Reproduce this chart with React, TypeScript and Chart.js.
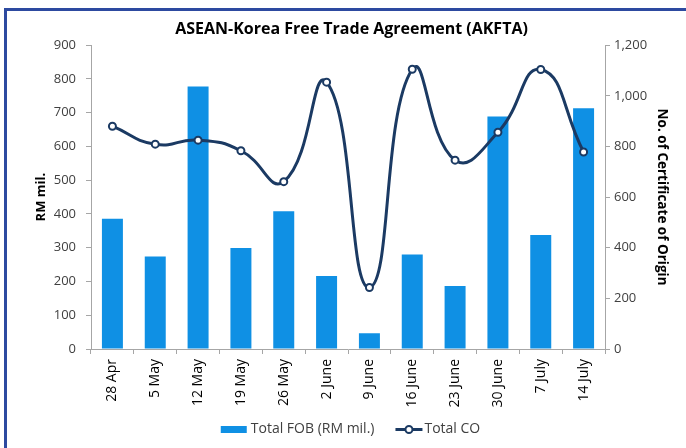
import React, { useEffect, useRef } from "react";
import { Chart, registerables } from "chart.js";

Chart.register(...registerables);

const categories = ["28 Apr", "5 May", "12 May", "19 May", "26 May", "2 June", "9 June", "16 June", "23 June", "30 June", "7 July", "14 July"];
const totalFob = [386, 274, 778, 299, 408, 216, 47, 280, 187, 689, 338, 713];
const totalCo = [880, 809, 825, 783, 661, 1054, 243, 1105, 746, 856, 1104, 778];
const leftTicks = [0, 100, 200, 300, 400, 500, 600, 700, 800, 900];
const rightTicks = [0, 200, 400, 600, 800, 1000, 1200];

const FONT = "'Open Sans', 'Liberation Sans', sans-serif";
const BAR = "#0F90E4";
const LINE = "#1B3A63";
const AXIS = "#A6A6A6";

const legendPlugin = {
  id: "customLegend",
  afterDraw(chart: any) {
    const ctx = chart.ctx;
    const ds = chart.data.datasets;
    ctx.save();
    ctx.font = `14px ${FONT}`;
    ctx.textBaseline = "middle";
    ctx.fillStyle = "#404040";
    const t1 = ds[0].label;
    const t2 = ds[1].label;
    const w1 = ctx.measureText(t1).width;
    const w2 = ctx.measureText(t2).width;
    const total = 26 + 4 + w1 + 21 + 27 + 2 + w2;
    let x = 350.5 - total / 2;
    const y = 429.5;
    ctx.fillStyle = ds[0].backgroundColor;
    ctx.fillRect(x, y - 3.5, 26, 7);
    x += 30;
    ctx.fillStyle = "#404040";
    ctx.fillText(t1, x, y);
    x += w1 + 21;
    ctx.strokeStyle = ds[1].borderColor;
    ctx.lineWidth = 3;
    ctx.beginPath();
    ctx.moveTo(x, y);
    ctx.lineTo(x + 27, y);
    ctx.stroke();
    ctx.beginPath();
    ctx.arc(x + 13.5, y, 3.5, 0, Math.PI * 2);
    ctx.fillStyle = "#ffffff";
    ctx.fill();
    ctx.lineWidth = 2;
    ctx.stroke();
    x += 29;
    ctx.fillStyle = "#404040";
    ctx.fillText(t2, x, y);
    ctx.restore();
  },
};

export default function App() {
  const ref = useRef<HTMLCanvasElement | null>(null);

  useEffect(() => {
    if (!ref.current) return;
    const chart = new Chart(ref.current, {
      type: "bar",
      data: {
        labels: categories,
        datasets: [
          {
            type: "bar",
            label: "Total FOB (RM mil.)",
            data: totalFob,
            backgroundColor: BAR,
            borderWidth: 0,
            yAxisID: "y",
            order: 2,
            barPercentage: 1,
            categoryPercentage: 0.49,
          },
          {
            type: "line",
            label: "Total CO",
            data: totalCo,
            borderColor: LINE,
            backgroundColor: "#ffffff",
            borderWidth: 3,
            tension: 0.5,
            pointRadius: 3.5,
            pointBorderWidth: 2,
            pointBackgroundColor: "#ffffff",
            pointBorderColor: LINE,
            yAxisID: "y1",
            order: 1,
          } as any,
        ],
      },
      options: {
        responsive: false,
        animation: false,
        layout: { padding: { left: 33, right: 16, top: 0, bottom: 29 } },
        plugins: {
          legend: { display: false },
          tooltip: { enabled: false },
          title: {
            display: true,
            text: "ASEAN-Korea Free Trade Agreement (AKFTA)",
            color: "#000000",
            font: { family: FONT, size: 16, weight: "bold" },
            padding: { top: 20, bottom: 6 },
          },
        },
        scales: {
          x: {
            grid: { drawOnChartArea: false, drawTicks: true, tickLength: 5, color: AXIS, offset: true },
            border: { color: AXIS, width: 1 },
            ticks: {
              color: "#000000",
              font: { family: FONT, size: 14 },
              minRotation: 90,
              maxRotation: 90,
              padding: 5,
              autoSkip: false,
            },
            afterFit(scale: any) {
              scale.height = 70;
            },
          },
          y: {
            position: "left",
            min: 0,
            max: 900,
            afterBuildTicks(scale: any) {
              scale.ticks = leftTicks.map((v) => ({ value: v }));
            },
            grid: { drawOnChartArea: false, drawTicks: true, tickLength: 5, color: AXIS },
            border: { color: AXIS, width: 1 },
            ticks: { color: "#404040", font: { family: FONT, size: 13 }, padding: 10 },
            title: {
              display: true,
              text: "RM mil.",
              color: "#000000",
              font: { family: FONT, size: 13, weight: "bold" },
              padding: { top: 0, bottom: 0 },
            },
            afterFit(scale: any) {
              scale.width = 58;
            },
          },
          y1: {
            position: "right",
            min: 0,
            max: 1200,
            afterBuildTicks(scale: any) {
              scale.ticks = rightTicks.map((v) => ({ value: v }));
            },
            grid: { drawOnChartArea: false, drawTicks: true, tickLength: 5, color: AXIS },
            border: { color: AXIS, width: 1 },
            ticks: {
              color: "#404040",
              font: { family: FONT, size: 13 },
              padding: 4,
              callback: (v: any) => Number(v).toLocaleString("en-US"),
            },
            title: {
              display: true,
              text: "No. of Certificate of Origin",
              color: "#000000",
              font: { family: FONT, size: 13.5, weight: "bold" },
              padding: { top: 0, bottom: 0 },
            },
            afterFit(scale: any) {
              scale.width = 65;
            },
          },
        },
      },
      plugins: [legendPlugin],
    });
    return () => chart.destroy();
  }, []);

  return (
    <div style={{ position: "absolute", left: 0, top: 0, width: 686, height: 448, overflow: "hidden", background: "#ffffff" }}>
      <div
        style={{
          position: "absolute",
          left: 4,
          top: 8,
          width: 720,
          height: 480,
          borderLeft: "3px solid #2D4AA0",
          borderTop: "3px solid #2D4AA0",
        }}
      />
      <canvas ref={ref} width={686} height={448} style={{ position: "absolute", left: 0, top: 0 }} />
    </div>
  );
}
